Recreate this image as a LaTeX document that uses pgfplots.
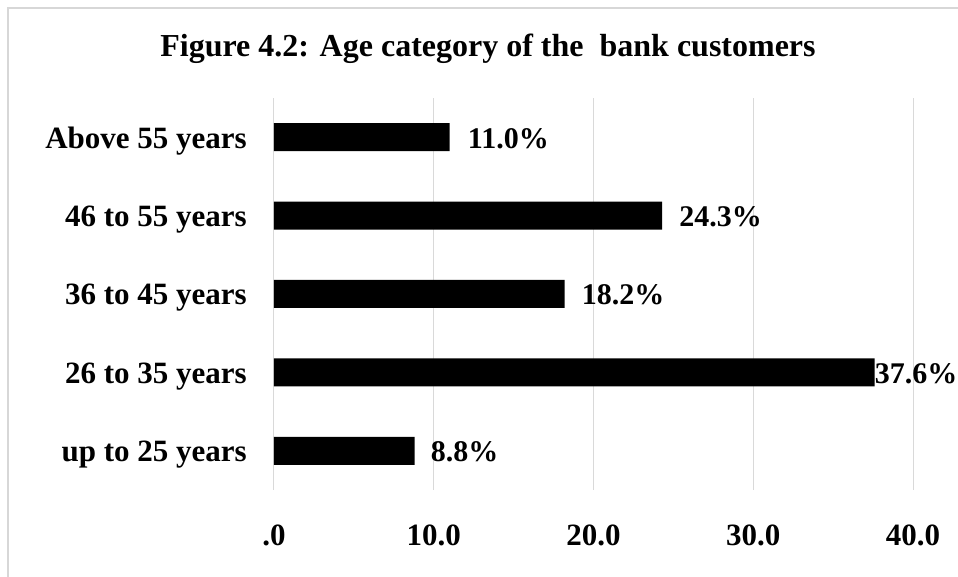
\documentclass[border=0pt]{standalone}
\usepackage{pgfplots}
\pgfplotsset{compat=1.18}
\usepackage{pgfplotstable}
\usepackage{fontspec}
\setmainfont{Liberation Serif}
\definecolor{gridgray}{RGB}{217,217,217}
\definecolor{framegray}{RGB}{215,215,215}
\pgfplotstableread{
idx val shift
0 8.8 16
1 37.6 0
2 18.2 17
3 24.3 17
4 11.0 18
}\agedata
\begin{document}
\begin{tikzpicture}
\useasboundingbox (0,0) rectangle (958pt,577pt);
\draw[framegray, line width=1.5pt] (8pt,0pt) -- (8pt,569pt) -- (958pt,569pt);
\node[font=\bfseries\fontsize{32}{38}\selectfont, inner sep=0pt, anchor=base] at (488pt,520pt) {Figure 4.2: Age category of the~ bank customers};
\begin{axis}[
  at={(274pt,87pt)}, anchor=south west,
  scale only axis, width=639pt, height=392pt,
  xbar, bar width=28pt,
  xmin=0, xmax=40, ymin=-0.5, ymax=4.5,
  xtick={0,10,20,30,40}, xticklabels={.0,10.0,20.0,30.0,40.0},
  ytick={0,1,2,3,4},
  yticklabels={up to 25 years, 26 to 35 years, 36 to 45 years, 46 to 55 years, Above 55 years},
  axis line style={draw=none},
  major tick length=0pt,
  xmajorgrids, major grid style={gridgray, line width=1pt},
  clip=false,
  /pgf/number format/assume math mode=true,
  xticklabel style={font=\bfseries\fontsize{31}{37}\selectfont, anchor=north, inner sep=0pt, yshift=-35pt},
  yticklabel style={font=\bfseries\fontsize{31}{37}\selectfont, anchor=base east, inner sep=0pt, xshift=-27pt, yshift=-11pt},
  point meta=x,
  visualization depends on={\thisrow{shift} \as \lshift},
  nodes near coords={\pgfmathprintnumber[fixed,zerofill,precision=1,assume math mode=true]{\pgfplotspointmeta}\%},
  nodes near coords style={font=\bfseries\fontsize{30}{36}\selectfont, anchor=base west, inner sep=0pt, xshift=\lshift pt, yshift=-11pt},
]
\addplot[fill=black, draw=none] table[x=val, y=idx] {\agedata};
\end{axis}
\end{tikzpicture}
\end{document}
